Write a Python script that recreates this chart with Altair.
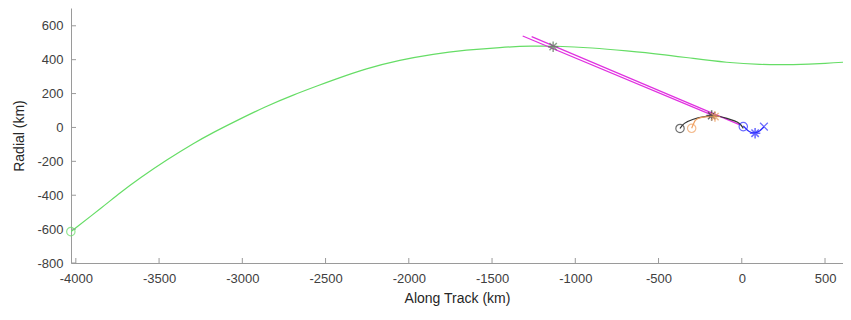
import altair as alt
import pandas as pd

# ---- data ----
green_x = [-4030, -3836, -3736, -3616, -3455, -3285, -3175, -3065, -2854, -2694, -2534,
           -2454, -2254, -2054, -1854, -1653, -1453, -1253, -1134, -892, -692, -491,
           -291, -91, 109, 309, 510, 656]
green_y = [-615, -467, -387, -299, -192, -89, -30, 25, 127, 192, 251,
           280, 349, 398, 434, 457, 473, 481, 481, 470, 452, 433,
           407, 383, 370, 370, 378, 388]

magA_x = [-1316, -181]
magA_y = [540, 74]
magB_x = [-1262, -11]
magB_y = [536, 15]

black_x = [-371, -351, -291, -230, -181, -130, -91, -40, -11, 9]
black_y = [-6, 25, 50, 64, 70, 66, 54, 38, 25, -5]

orange_x = [-301, -290, -281, -260, -233, -200, -161]
orange_y = [-5, 20, 44, 55, 62, 65, 64]

blue_x = [9, 37, 60, 80, 110, 133]
blue_y = [9, -21, -31, -34, -21, 3]

circ_x = [-4030, -371, -301, 9]
circ_y = [-615, -6, -5, 5]
circ_s = ["green", "black", "orange", "blue"]

star_x = [-1133, -181, -161, 80]
star_y = [477, 70, 64, -34]
star_s = ["gray", "black", "orange", "blue"]

xm_x = [133]
xm_y = [5]
xm_s = ["blue"]

x_ticks = [-4000, -3500, -3000, -2500, -2000, -1500, -1000, -500, 0, 500]
y_ticks = [-800, -600, -400, -200, 0, 200, 400, 600]

X_DOM = [-4029, 608]
Y_DOM = [-800, 705]

col_dom = ["green", "magenta", "black", "orange", "blue", "gray"]
col_rng = ["#66dd66", "#e030e0", "#333333", "#f0a060", "#2a2aff", "#5c7a5c"]

FONT = "Liberation Sans"

xs = alt.Scale(domain=X_DOM, nice=False, zero=False)
ys = alt.Scale(domain=Y_DOM, nice=False, zero=False)
cs = alt.Scale(domain=col_dom, range=col_rng)

rows = []
for name, xx, yy in [("green", green_x, green_y), ("magA", magA_x, magA_y),
                     ("magB", magB_x, magB_y), ("black", black_x, black_y),
                     ("orange", orange_x, orange_y), ("blue", blue_x, blue_y)]:
    colr = "magenta" if name.startswith("mag") else name
    for i, (a, b) in enumerate(zip(xx, yy)):
        rows.append({"x": a, "y": b, "series": name, "c": colr, "o": i})
lines_df = pd.DataFrame(rows)

xaxis = alt.Axis(values=x_ticks, title="Along Track (km)", grid=False, tickSize=0,
                 labelPadding=9, titlePadding=6, labelFont=FONT, titleFont=FONT,
                 labelFontSize=13, titleFontSize=14, labelColor="#404040",
                 titleColor="#262626", titleFontWeight="normal",
                 domainColor="#9a9a9a", labelFlush=False, labelOverlap=False,
                 labelSeparation=0, labelExpr="datum.value + ''")
yaxis = alt.Axis(values=y_ticks, title="Radial (km)", grid=False, tickSize=0,
                 labelPadding=8, titlePadding=10, labelFont=FONT, titleFont=FONT,
                 labelFontSize=13, titleFontSize=14, labelColor="#404040",
                 titleColor="#262626", titleFontWeight="normal",
                 domainColor="#9a9a9a", labelFlush=False, labelOverlap=False,
                 labelSeparation=0, labelExpr="datum.value + ''")

X = lambda f: alt.X(f, scale=xs, axis=xaxis)
Y = lambda f: alt.Y(f, scale=ys, axis=yaxis)

lines = alt.Chart(lines_df).mark_line(strokeWidth=1.2, clip=True, interpolate="basis").encode(
    x=X("x:Q"), y=Y("y:Q"),
    color=alt.Color("c:N", scale=cs, legend=None),
    detail="series:N",
    order="o:Q",
)

circles = alt.Chart(pd.DataFrame({"x": circ_x, "y": circ_y, "c": circ_s})).mark_point(
    shape="circle", filled=False, size=70, strokeWidth=1.2, clip=False
).encode(x=X("x:Q"), y=Y("y:Q"), color=alt.Color("c:N", scale=cs, legend=None))

ASTER = "M-1,0L1,0M0,-1L0,1M-0.7,-0.7L0.7,0.7M-0.7,0.7L0.7,-0.7"
stars = alt.Chart(pd.DataFrame({"x": star_x, "y": star_y, "c": star_s})).mark_point(
    shape=ASTER, filled=False, size=110, strokeWidth=1.5
).encode(x=X("x:Q"), y=Y("y:Q"), color=alt.Color("c:N", scale=cs, legend=None))

XM = "M-1,-1L1,1M-1,1L1,-1"
xmarks = alt.Chart(pd.DataFrame({"x": xm_x, "y": xm_y, "c": xm_s})).mark_point(
    shape=XM, filled=False, size=60, strokeWidth=1.2
).encode(x=X("x:Q"), y=Y("y:Q"), color=alt.Color("c:N", scale=cs, legend=None))

# inward ticks (MATLAB style)
H = 255
xt = alt.Chart(pd.DataFrame({"t": x_ticks})).mark_rule(color="#9a9a9a", strokeWidth=1).encode(
    x=X("t:Q"), y=alt.value(H), y2=alt.value(H - 5))
yt = alt.Chart(pd.DataFrame({"t": y_ticks})).mark_rule(color="#9a9a9a", strokeWidth=1).encode(
    y=Y("t:Q"), x=alt.value(0), x2=alt.value(5))

chart = alt.layer(lines, xt, yt, circles, stars, xmarks).properties(
    width=772, height=H,
    autosize=alt.AutoSizeParams(type="none"),
    padding={"left": 63, "top": 0, "right": 0, "bottom": 49},
    background="white",
).configure_view(stroke=None)

chart.save("out.html", embed_options={"renderer": "svg", "actions": False})
